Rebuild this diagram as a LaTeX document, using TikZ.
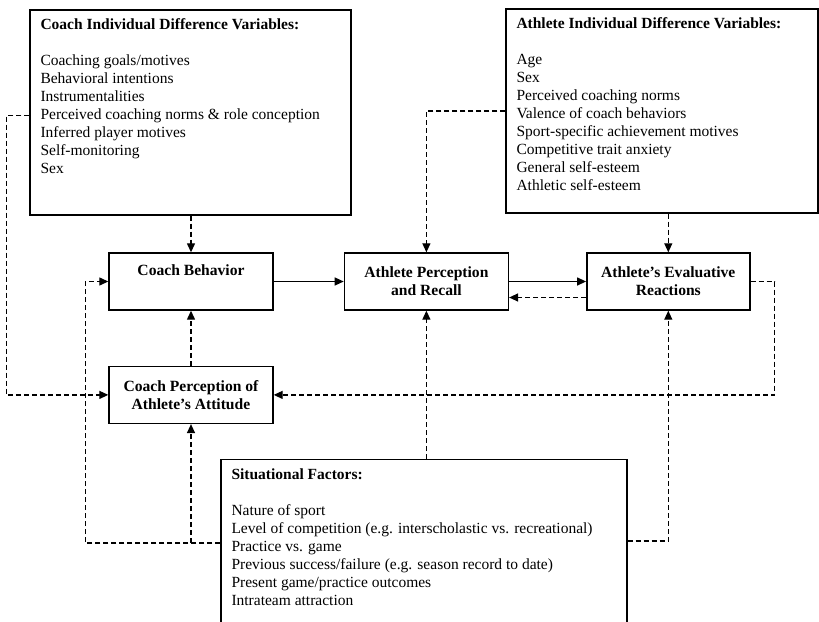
\documentclass[tikz,border=0pt]{standalone}
\usepackage{fontspec}
\setmainfont{Liberation Serif}
\usetikzlibrary{arrows.meta,positioning}

\tikzset{
    block/.style={draw, line width=1.4pt, minimum width=164pt, minimum height=57pt,
        inner sep=0pt, align=center, font=\fontsize{15.6}{18}\selectfont\bfseries},
    bigbox/.style={draw, line width=1.4pt, inner sep=0pt},
    list/.style={inner sep=0pt, align=left, anchor=north west, font=\fontsize{15.5}{18}\selectfont},
    slink/.style={line width=1.3pt, -{Triangle[length=9pt,width=8pt]}},
    dlink/.style={slink, dash pattern=on 5pt off 3pt},
}

\begin{document}
\begin{tikzpicture}[x=1pt, y=-1pt]
        \useasboundingbox (0,0) rectangle (819,621);
        \clip (0,0) rectangle (819,621);
        % individual difference boxes
        \node[bigbox, minimum width=321pt, minimum height=205pt] (cidv) at (190.5,112.5) {};
        \node[list, below right=9.5pt and 11pt of cidv.north west] (cidvtext) {%
            \textbf{Coach Individual Difference Variables:}\\[18pt]
            Coaching goals/motives\\
            Behavioral intentions\\
            Instrumentalities\\
            Perceived coaching norms \& role conception\\
            Inferred player motives\\
            Self-monitoring\\
            Sex};
        \node[bigbox, minimum width=312pt, minimum height=204pt] (aidv) at (662,111) {};
        \node[list, below right=9.5pt and 11pt of aidv.north west] (aidvtext) {%
            \textbf{Athlete Individual Difference Variables:}\\[18pt]
            Age\\
            Sex\\
            Perceived coaching norms\\
            Valence of coach behaviors\\
            Sport-specific achievement motives\\
            Competitive trait anxiety\\
            General self-esteem\\
            Athletic self-esteem};
        % middle row
        \node[block, text depth=22pt] (cb) at (191,281.5) {Coach Behavior};
        \node[block, right=70pt of cb] (apr) {Athlete Perception\\and Recall};
        \node[block, minimum width=163pt, right=77pt of apr] (aer) {Athlete's Evaluative\\Reactions};
        \node[block, below=55pt of cb] (cpa) {Coach Perception of\\Athlete's Attitude};
        % situational factors
        \node[bigbox, minimum width=406pt, minimum height=200pt, anchor=north] (sf) at (424,459) {};
        \node[list, below right=10pt and 11pt of sf.north west] (sftext) {%
            \textbf{Situational Factors:}\\[18pt]
            Nature of sport\\
            Level of competition (e.g. interscholastic vs. recreational)\\
            Practice vs. game\\
            Previous success/failure (e.g. season record to date)\\
            Present game/practice outcomes\\
            Intrateam attraction};
        % turning points
        \coordinate[left=102pt of cpa.west] (lx);
        \coordinate[left=23pt of cb.west] (lx2);
        \coordinate[right=24pt of aer.east] (rx);
        \coordinate[below=84pt of sf.north west] (sfl);
        \coordinate[below=82pt of sf.north east] (sfr);
        % connectors
        \draw[dlink] (cidv.south -| cb.north) -- (cb.north);
        \draw[dlink] ([yshift=-3pt]cidv.west) -| (lx) -- (cpa.west);
        \draw[dlink] (aidv.west) -| (apr.north);
        \draw[dlink] (aidv.south -| aer.north) -- (aer.north);
        \draw[slink] (cb.east) -- (apr.west);
        \draw[slink] (apr.east) -- (aer.west);
        \draw[dlink] ([yshift=-16pt]aer.west) -- ([yshift=-16pt]apr.east);
        \draw[dlink] (cpa.north) -- (cb.south);
        \draw[dlink] (aer.east) -- (rx) |- (cpa.east);
        \draw[dlink] (sf.north -| apr.south) -- (apr.south);
        \draw[dlink] (sfl) -| (lx2) -- (cb.west);
        \draw[dlink] (sfl -| cpa.south) -- (cpa.south);
        \draw[dlink] (sfr) -| (aer.south);
\end{tikzpicture}
\end{document}
